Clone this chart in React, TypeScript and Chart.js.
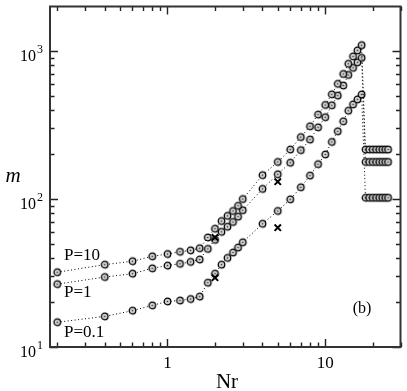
import React, { useEffect, useRef } from "react";
import { Chart, registerables } from "chart.js";
Chart.register(...registerables);

// ---- data ----
const nr = [0.2, 0.4, 0.6, 0.8, 1.0, 1.2, 1.4, 1.6, 1.8, 2.0, 2.2, 2.4, 2.6, 2.8, 3.0, 4, 5, 6, 7, 8, 9, 10, 11, 12, 13, 14, 15, 16, 17, 18, 19, 20, 21, 22, 23, 24, 25];
const mP10 = [32, 36, 38, 41, 42.5, 44, 45, 46.5, 55, 63, 71, 77, 83, 90, 100, 145, 178, 216, 262, 310, 372, 432, 510, 600, 700, 820, 920, 1010, 1096, 216, 216, 216, 216, 216, 216, 216, 216];
const mP1 = [26.6, 29.7, 31.3, 34, 35.5, 36.5, 37.6, 39, 46, 53, 60, 65, 70, 76, 84, 117, 147, 176, 214, 252, 305, 357, 430, 500, 585, 690, 770, 840, 900, 178, 178, 178, 178, 178, 178, 178, 178];
const mP01 = [14.7, 16.1, 17.6, 19.1, 20.3, 20.6, 21.1, 21.9, 27.2, 31.3, 36, 40, 43.5, 47, 51, 68, 83, 99.5, 120, 144, 172, 200, 243, 287, 335, 395, 436, 471, 509, 102, 102, 102, 102, 102, 102, 102, 102];
const crossNr = [2, 5];
const crossHigh = [55, 131];
const crossLow = [29.4, 64];
const seriesLabels = ["P=10", "P=1", "P=0.1"];
const xMajorTicks = [1, 10];
const xTickLabels = ["1", "10"];
const yMajorTicks = [10, 100, 1000];
const yTickExponents = ["1", "2", "3"];
const xTitle = "Nr";
const yTitle = "m";
const panelLabel = "(b)";

const SERIF = "\"Times New Roman\", \"Liberation Serif\", Tinos, serif";

function makeMarker(): HTMLCanvasElement {
  const c = document.createElement("canvas");
  c.width = 11;
  c.height = 11;
  const g = c.getContext("2d")!;
  g.beginPath();
  g.arc(5.5, 5.5, 3.3, 0, Math.PI * 2);
  g.fillStyle = "#cfcfcf";
  g.fill();
  g.lineWidth = 1.3;
  g.strokeStyle = "#000";
  g.stroke();
  g.beginPath();
  g.arc(5.5, 5.5, 0.8, 0, Math.PI * 2);
  g.fillStyle = "#333";
  g.fill();
  return c;
}

const decorPlugin = {
  id: "decor",
  afterDraw(chart: any) {
    const { ctx, chartArea: a, scales } = chart;
    const xs = scales.x;
    const ys = scales.y;
    ctx.save();
    // ticks
    ctx.strokeStyle = "#222";
    ctx.lineWidth = 1.4;
    const majLen = 8;
    const minLen = 4.5;
    const xTickVals: number[] = [];
    for (let d = -1; d <= 1; d++) {
      for (let k = 1; k <= 9; k++) {
        const v = k * Math.pow(10, d);
        if (v >= 0.18 && v <= 30) xTickVals.push(v);
      }
    }
    xTickVals.forEach((v) => {
      const px = Math.round(xs.getPixelForValue(v)) + 0.5;
      const len = xMajorTicks.includes(v) ? majLen : minLen;
      ctx.beginPath();
      ctx.moveTo(px, a.bottom);
      ctx.lineTo(px, a.bottom - len);
      ctx.moveTo(px, a.top);
      ctx.lineTo(px, a.top + len);
      ctx.stroke();
    });
    const yTickVals: number[] = [];
    for (let d = 1; d <= 3; d++) {
      for (let k = 1; k <= 9; k++) {
        const v = k * Math.pow(10, d);
        if (v >= 10 && v < 2000) yTickVals.push(v);
      }
    }
    yTickVals.forEach((v) => {
      const py = Math.round(ys.getPixelForValue(v)) + 0.5;
      const len = yMajorTicks.includes(v) ? majLen : minLen;
      ctx.beginPath();
      ctx.moveTo(a.left, py);
      ctx.lineTo(a.left + len, py);
      ctx.moveTo(a.right, py);
      ctx.lineTo(a.right - len, py);
      ctx.stroke();
    });
    // frame
    ctx.lineWidth = 2;
    ctx.strokeStyle = "#333";
    ctx.strokeRect(a.left, a.top, a.right - a.left, a.bottom - a.top);

    ctx.fillStyle = "#000";
    // x tick labels
    ctx.font = `17px ${SERIF}`;
    ctx.textAlign = "center";
    ctx.textBaseline = "alphabetic";
    xMajorTicks.forEach((v, i) => {
      ctx.fillText(xTickLabels[i], xs.getPixelForValue(v), a.bottom + 21);
    });
    // y tick labels with superscript
    yMajorTicks.forEach((v, i) => {
      const py = ys.getPixelForValue(v);
      ctx.font = `16px ${SERIF}`;
      ctx.textAlign = "right";
      ctx.fillText("10", 36, py + 10);
      ctx.font = `12px ${SERIF}`;
      ctx.textAlign = "left";
      ctx.fillText(yTickExponents[i], 37, py + 1.5);
    });
    // axis titles
    ctx.font = `21px ${SERIF}`;
    ctx.textAlign = "center";
    ctx.fillText(xTitle, 227, 388);
    ctx.font = `italic 21px ${SERIF}`;
    ctx.fillText(yTitle, 13, 182);
    // series labels
    ctx.font = `17px ${SERIF}`;
    ctx.textAlign = "left";
    ctx.fillText(seriesLabels[0], 64, 260);
    ctx.fillText(seriesLabels[1], 64, 297);
    ctx.fillText(seriesLabels[2], 64, 337);
    // panel label
    ctx.font = `16px ${SERIF}`;
    ctx.textAlign = "center";
    ctx.fillText(panelLabel, 362, 313);
    ctx.restore();
  },
};

export default function App() {
  const ref = useRef<HTMLCanvasElement | null>(null);
  useEffect(() => {
    document.body.style.margin = "0";
    const marker = makeMarker();
    const toPts = (ys: number[], xsArr: number[]) => xsArr.map((x, i) => ({ x, y: ys[i] }));
    const seriesDs = [mP10, mP1, mP01].map((s, i) => ({
      label: seriesLabels[i],
      data: toPts(s, nr),
      borderColor: "#000",
      borderWidth: 1,
      borderDash: [1, 2.5],
      fill: false,
      tension: 0,
      pointStyle: marker as any,
      pointRadius: 4,
      pointHoverRadius: 4,
    }));
    const crossDs = [crossHigh, crossLow].map((s) => ({
      label: "x",
      data: toPts(s, crossNr),
      showLine: false,
      borderColor: "#000",
      backgroundColor: "#000",
      pointStyle: "crossRot" as const,
      pointRadius: 4.5,
      pointBorderWidth: 2,
      pointHoverRadius: 4.5,
    }));
    const chart = new Chart(ref.current!, {
      type: "line",
      data: { datasets: [...crossDs, ...seriesDs] as any },
      options: {
        responsive: false,
        animation: false,
        events: [],
        layout: { padding: { left: 50, right: 3, top: 3, bottom: 44 } },
        plugins: { legend: { display: false }, tooltip: { enabled: false } },
        scales: {
          x: { type: "logarithmic", min: 0.18, max: 30, display: false },
          y: { type: "logarithmic", min: 10, max: 2000, display: false },
        },
      },
      plugins: [decorPlugin],
    });
    return () => chart.destroy();
  }, []);
  return (
    <div style={{ position: "fixed", left: 0, top: 0, width: 407, height: 391, background: "#fff" }}>
      <canvas ref={ref} width={407} height={391} style={{ width: 407, height: 391 }} />
    </div>
  );
}
